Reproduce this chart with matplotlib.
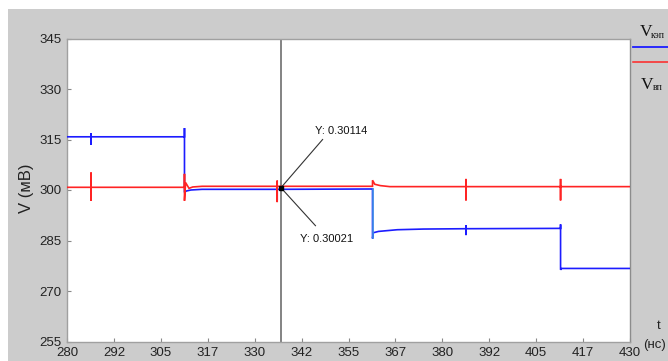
import matplotlib
matplotlib.use("Agg")
import matplotlib.pyplot as plt
from matplotlib.patches import Rectangle
from matplotlib.lines import Line2D

plt.rcParams['font.family'] = ['Liberation Sans', 'DejaVu Sans']

# Time axis (ns) and signal breakpoints (mV)
blue_t = [280.0, 286.4, 286.4, 286.4, 286.4, 311.3, 311.3, 311.3, 311.8, 313.0, 316.0,
          336.0, 336.0, 336.0, 361.4, 361.4, 361.6, 363.0, 368.0, 375.0,
          386.3, 386.3, 386.3, 386.3, 411.5, 411.5, 411.5, 411.8, 430.0]
blue_v = [315.8, 315.8, 316.9, 313.4, 315.8, 315.8, 318.4, 299.3, 299.7, 300.0, 300.2,
          300.2, 297.0, 300.2, 300.3, 285.6, 287.3, 287.7, 288.2, 288.4,
          288.5, 289.6, 286.6, 288.5, 288.6, 289.8, 276.3, 276.7, 276.7]

red_t = [280.0, 286.4, 286.4, 286.4, 286.4, 311.3, 311.3, 311.3, 311.6, 312.5, 313.5, 316.0,
         336.0, 336.0, 336.0, 336.0, 361.4, 361.4, 362.0, 363.5, 366.0,
         386.3, 386.3, 386.3, 386.3, 411.5, 411.5, 411.5, 411.5, 430.0]
red_v = [300.8, 300.8, 305.2, 296.8, 300.8, 300.8, 304.8, 296.8, 302.2, 300.5, 300.9, 301.1,
         301.1, 302.8, 296.4, 301.1, 301.1, 302.9, 301.7, 301.3, 301.0,
         301.0, 303.3, 296.9, 301.0, 301.0, 303.3, 296.9, 301.0, 301.0]

# Data cursor
cursor_t = 337.0
tip_red = 301.14
tip_blue = 300.21

x_ticks = [280 + 12.5 * i for i in range(13)]
x_labels = ['280', '292', '305', '317', '330', '342', '355', '367', '380', '392', '405', '417', '430']
y_ticks = [255, 270, 285, 300, 315, 330, 345]

fig = plt.figure(figsize=(6.68, 3.61), dpi=100)
fig.patch.set_facecolor('white')
W, H = 668.0, 361.0
fig.add_artist(Rectangle((8 / W, 0), 1 - 8 / W, 1 - 9 / H, transform=fig.transFigure,
                         facecolor='#cccccc', edgecolor='none', zorder=0))

ax = fig.add_axes([67 / W, (H - 341.5) / H, (630 - 67) / W, (341.5 - 38.5) / H])
ax.set_facecolor('white')
ax.set_xlim(280, 430)
ax.set_ylim(255, 345)

ax.plot(blue_t, blue_v, color='#1c1cff', lw=1.2, zorder=3, solid_joinstyle='miter')
ax.plot(blue_t[14:16], blue_v[14:16], color='#3f8fe6', lw=1.2, zorder=3.1)
ax.plot(red_t, red_v, color='#ff2424', lw=1.2, zorder=4, solid_joinstyle='miter')

# vertical cursor
ax.axvline(cursor_t, color='#7a7a7a', lw=1.3, zorder=2)

# data tips
tip_y = (tip_red + tip_blue) / 2
ax.plot([cursor_t, 348.1], [tip_y, 315.0], color='#333333', lw=0.8, zorder=5)
ax.plot([cursor_t, 346.2], [tip_y, 289.4], color='#333333', lw=0.8, zorder=5)
ax.plot([cursor_t], [tip_y], marker='s', ms=3, color='black', zorder=6)
ax.text(346.1, 317.6, 'Y: %.5f' % (tip_red / 1000), fontsize=8, ha='left', va='center', color='#111111')
ax.text(342.1, 285.5, 'Y: %.5f' % (tip_blue / 1000), fontsize=8, ha='left', va='center', color='#111111')

ax.set_xticks(x_ticks)
ax.set_xticklabels(x_labels)
ax.set_yticks(y_ticks)
ax.tick_params(direction='in', length=3, width=0.8, color='#888888', labelsize=9.5,
               labelcolor='#222222', pad=4)
for s in ax.spines.values():
    s.set_color('#a0a0a0')
    s.set_linewidth(1.0)
ax.spines['right'].set_color('#8c8c8c')

fig.text(27 / W, 1 - 188 / H, 'V (мВ)', rotation=90, fontsize=12, ha='center', va='center',
         color='#222222')
fig.text(659 / W, 1 - 326 / H, 't', fontsize=9.5, ha='center', va='center', color='#222222')
fig.text(643 / W, 1 - 345 / H, '(нс)', fontsize=9.5, ha='left', va='center', color='#222222')

# legend outside on the right
fig.add_artist(Line2D([633 / W, 1.0], [1 - 46.5 / H] * 2, transform=fig.transFigure,
                      color='#1c1cff', lw=1.3))
fig.add_artist(Line2D([633 / W, 1.0], [1 - 62.3 / H] * 2, transform=fig.transFigure,
                      color='#ff2424', lw=1.1))
fig.text(646 / W, 1 - 32.5 / H, 'V', family='Liberation Serif', fontsize=12.5,
         ha='center', va='center', color='#111111')
fig.text(651 / W, 1 - 36 / H, 'кэп', family='Liberation Serif', fontsize=7,
         ha='left', va='center', color='#111111')
fig.text(647 / W, 1 - 85 / H, 'V', family='Liberation Serif', fontsize=12.5,
         ha='center', va='center', color='#111111')
fig.text(652.5 / W, 1 - 87.5 / H, 'вп', family='Liberation Serif', fontsize=7,
         ha='left', va='center', color='#111111')

fig.savefig('out.png', dpi=100)
